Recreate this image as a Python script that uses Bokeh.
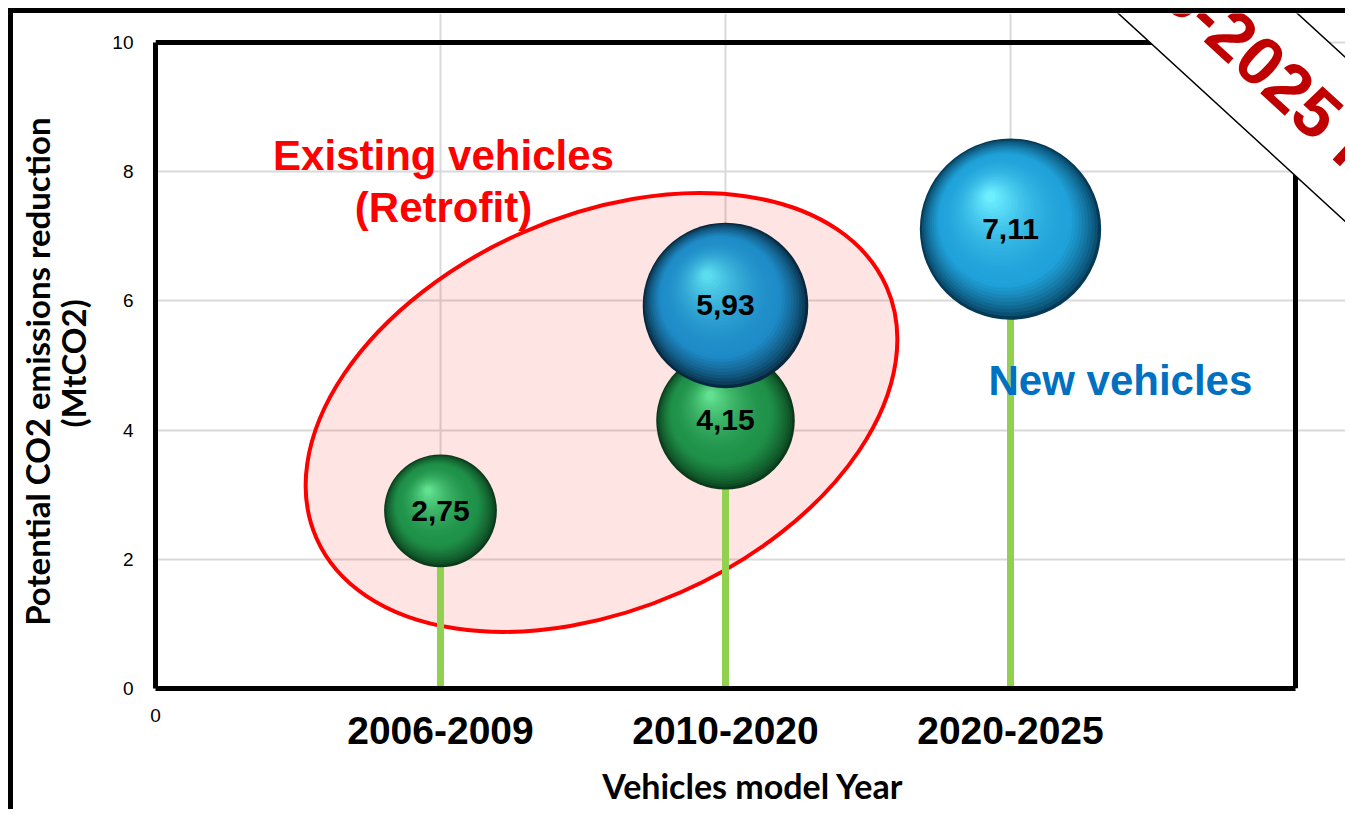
import math
import numpy as np
from bokeh.plotting import figure
from bokeh.models import ColumnDataSource, Label, LabelSet, FixedTicker, LinearAxis
from bokeh.core.properties import value
from bokeh.embed import file_html
from bokeh.resources import INLINE

# ---------------- data ----------------
categories = ["2006-2009", "2010-2020", "2020-2025"]
existing_cat = [0, 1]            # category index of "Existing vehicles (Retrofit)" bubbles
existing_val = [2.75, 4.15]
new_cat = [1, 2]                 # category index of "New vehicles" bubbles
new_val = [5.93, 7.11]
y_ticks = [0, 2, 4, 6, 8, 10]

# ---------------- layout / styles ----------------
W, H = 1337, 801
ML, MB = 142, 126
PLOT_W, PLOT_H = 1140, 646          # visible plot box (x 0..4, y 0..10)
X0, X1, Y0, Y1 = 0, 4, 0, 10
PX_X = PLOT_W / (X1 - X0)
PX_Y = PLOT_H / (Y1 - Y0)
XMAX = X1 + (W - ML - PLOT_W) / PX_X       # frame runs on to the canvas edge
YMAX = Y1 + (H - MB - PLOT_H) / PX_Y
BUBBLE_K = 68.0   # px of diameter per sqrt(value)

green_style = [("#0A3A1A", "#1F9149", "#62E08F"), ("#0A3A1A", "#1F9149", "#62E08F")]
blue_style = [("#07283E", "#1E8CC8", "#5CDDEE"), ("#053A57", "#20A2DA", "#6CEEFF")]

p = figure(width=W, height=H, x_range=(X0, XMAX), y_range=(Y0, YMAX),
           output_backend="svg", toolbar_location=None,
           min_border_left=ML, min_border_right=0, min_border_top=0, min_border_bottom=MB,
           background_fill_color="white", border_fill_color="white")
p.styles = {"border-top": "5px solid black", "border-left": "5px solid black",
            "margin-left": "8px", "margin-top": "8px"}
p.outline_line_color = None

# y axis
p.yaxis.ticker = FixedTicker(ticks=y_ticks)
p.yaxis.bounds = (Y0, Y1)
p.yaxis.major_tick_out = 0
p.yaxis.major_tick_in = 0
p.yaxis.minor_tick_out = 0
p.yaxis.minor_tick_in = 0
p.yaxis.major_label_standoff = 22
p.yaxis.major_label_text_font = "Liberation Sans"
p.yaxis.major_label_text_font_size = "19px"
p.yaxis.major_label_text_color = "black"
p.yaxis.axis_line_color = "black"
p.yaxis.axis_line_width = 5
# trailing em/en spaces keep the (frame-centred) label centred on the 0-10 box
p.yaxis.axis_label = "Potential CO2 emissions reduction\u2003\u2002\n(MtCO2)\u2003"
p.yaxis.axis_label_text_font = "Lato"
p.yaxis.axis_label_text_font_style = "bold"
p.yaxis.axis_label_text_font_size = "33px"
p.yaxis.axis_label_text_line_height = 0.9
p.yaxis.axis_label_text_color = "black"
p.yaxis.axis_label_standoff = 16

# x axis closest to the plot: only the "0" at the origin
zero_ax = p.xaxis[0]
zero_ax.ticker = FixedTicker(ticks=[0])
zero_ax.bounds = (X0, X1)
zero_ax.major_tick_out = 0
zero_ax.major_tick_in = 0
zero_ax.minor_tick_out = 0
zero_ax.minor_tick_in = 0
zero_ax.major_label_standoff = 20
zero_ax.major_label_text_font = "Liberation Sans"
zero_ax.major_label_text_font_size = "19px"
zero_ax.major_label_text_color = "black"
zero_ax.axis_line_color = "black"
zero_ax.axis_line_width = 5

# category axis
cat_ax = LinearAxis(ticker=FixedTicker(ticks=[i + 1 for i in range(len(categories))]),
                    major_label_overrides={i + 1: c for i, c in enumerate(categories)})
cat_ax.major_tick_out = 0
cat_ax.major_tick_in = 0
cat_ax.minor_tick_out = 0
cat_ax.minor_tick_in = 0
cat_ax.major_label_standoff = -8
cat_ax.major_label_text_font = "Liberation Sans"
cat_ax.major_label_text_font_style = "bold"
cat_ax.major_label_text_font_size = "39px"
cat_ax.major_label_text_color = "black"
cat_ax.axis_line_color = None
cat_ax.axis_label = "Vehicles model Year"
cat_ax.axis_label_text_font = "Lato"
cat_ax.axis_label_text_font_style = "bold"
cat_ax.axis_label_text_font_size = "34px"
cat_ax.axis_label_text_color = "black"
cat_ax.axis_label_standoff = 18
p.add_layout(cat_ax, "below")

# grid
p.ygrid.ticker = FixedTicker(ticks=y_ticks)
p.ygrid.bounds = (X0, X1)
p.ygrid.grid_line_color = "#D9D9D9"
p.ygrid.grid_line_width = 2
p.xgrid.ticker = FixedTicker(ticks=[i + 1 for i in range(len(categories))])
p.xgrid.bounds = (Y0, Y1)
p.xgrid.grid_line_color = "#D9D9D9"
p.xgrid.grid_line_width = 2

# top and right edges of the plot box
p.line(x=[X0, X1, X1], y=[Y1, Y1, Y0], line_color="black", line_width=5, line_join="miter")

# Retrofit ellipse
p.ellipse(x=[(601 - 155) / PX_X], y=[(688 - 412) / PX_Y], width=[623], height=[393],
          width_units="screen", height_units="screen", angle=math.radians(23.8),
          fill_color="#FF0000", fill_alpha=0.105, line_color="#FF0000", line_width=4)

# stems
all_x = [c + 1 for c in existing_cat] + [c + 1 for c in new_cat]
all_v = existing_val + new_val
p.segment(x0=all_x, y0=[0] * len(all_x), x1=all_x, y1=all_v,
          line_color="#92D050", line_width=7)


def hex2rgb(h):
    h = h.lstrip("#")
    return np.array([int(h[i:i + 2], 16) for i in (0, 2, 4)], dtype=float)


def rgb2hex(c):
    c = np.clip(np.round(c), 0, 255).astype(int)
    return "#%02x%02x%02x" % tuple(c)


def sphere_layers(cats, vals, styles, n=34):
    xs, ys, sizes, colors = [], [], [], []
    for c, v, (dark, base, light) in zip(cats, vals, styles):
        d = BUBBLE_K * math.sqrt(v)
        r = d / 2
        hx, hy = -0.22 * r / PX_X, 0.36 * r / PX_Y
        cd, cb, cl = hex2rgb(dark), hex2rgb(base), hex2rgb(light)
        for k in range(n):
            t = k / (n - 1)
            if t < 0.28:
                col = cd + (cb - cd) * (t / 0.28) ** 0.7
            else:
                u = ((t - 0.28) / 0.72) ** 1.8
                col = cb + (cl - cb) * u
            xs.append(c + 1 + hx * t)
            ys.append(v + hy * t)
            sizes.append(d * (1 - 0.94 * t))
            colors.append(rgb2hex(col))
    return ColumnDataSource(dict(x=xs, y=ys, size=sizes, color=colors))


g_src = sphere_layers(existing_cat, existing_val, green_style)
b_src = sphere_layers(new_cat, new_val, blue_style)
p.scatter("x", "y", size="size", fill_color="color", line_color=None, source=g_src)
p.scatter("x", "y", size="size", fill_color="color", line_color=None, source=b_src)

# value labels
lab_src = ColumnDataSource(dict(x=all_x, y=all_v,
                                t=[f"{v:.2f}".replace(".", ",") for v in all_v]))
p.add_layout(LabelSet(x="x", y="y", text="t", source=lab_src, text_align="center",
                      text_baseline="middle", text_font=value("Liberation Sans"),
                      text_font_style="bold", text_font_size="30px", text_color="black"))

# annotations
for txt, yb in [("Existing vehicles", (688 - 155) / PX_Y), ("(Retrofit)", (688 - 207) / PX_Y)]:
    p.add_layout(Label(x=(443 - 155) / PX_X, y=yb, text=txt, text_align="center",
                       text_baseline="alphabetic", text_font="Liberation Sans",
                       text_font_style="bold", text_font_size="42px", text_color="#FF0000"))
p.add_layout(Label(x=(988 - 155) / PX_X, y=(688 - 380) / PX_Y, text="New vehicles",
                   text_align="left", text_baseline="alphabetic", text_font="Liberation Sans",
                   text_font_style="bold", text_font_size="42px", text_color="#0070C0"))

# corner banner
p.add_layout(Label(x=(1071 - 155) / PX_X, y=(688 + 112) / PX_Y, text="2006-2025 Results",
                   angle=math.radians(-42.5), text_align="left", text_baseline="middle",
                   text_font="Liberation Sans", text_font_style="bold", text_font_size="69px",
                   text_color="#C00000", background_fill_color="white",
                   border_line_color="black", border_line_width=1.5, padding=22))

open("out.html", "w").write(file_html(p, INLINE))
